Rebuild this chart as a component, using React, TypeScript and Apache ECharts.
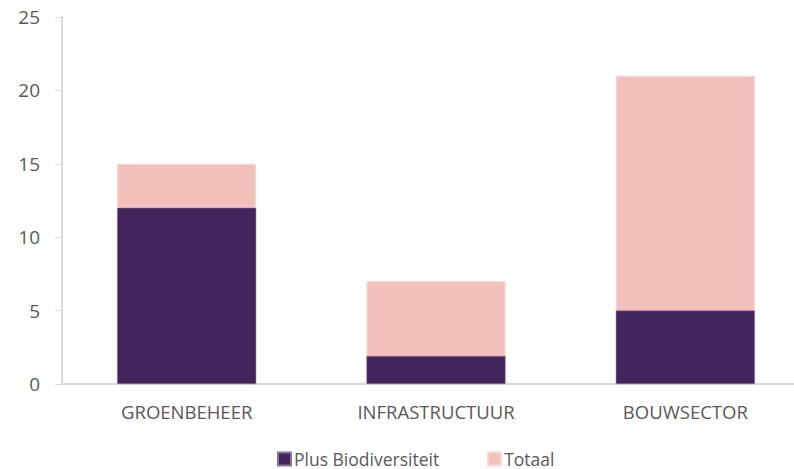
import React, { useEffect, useRef } from "react";
import * as echarts from "echarts";

const categories = ["GROENBEHEER", "INFRASTRUCTUUR", "BOUWSECTOR"];
const plusBiodiversiteit = [12, 1.9, 5];
const totaal = [15, 7, 21];
const yTicks = { min: 0, max: 25, interval: 5 };

const FONT = "'Open Sans', 'Noto Sans', sans-serif";
const TEXT = "#595959";

export default function App() {
  const ref = useRef<HTMLDivElement>(null);
  useEffect(() => {
    if (!ref.current) return;
    const chart = echarts.init(ref.current, null, { renderer: "svg" });
    chart.setOption({
      animation: false,
      textStyle: { fontFamily: FONT },
      grid: { left: 62, top: 17, width: 748, height: 367, containLabel: false },
      legend: {
        left: 277,
        top: 450,
        padding: 0,
        itemWidth: 13,
        itemHeight: 13,
        itemGap: 48,
        icon: "rect",
        textStyle: { color: TEXT, fontSize: 17.5, lineHeight: 15, fontFamily: FONT, padding: [0, 0, 0, -2] },
        data: ["Plus Biodiversiteit", "Totaal"],
      },
      xAxis: {
        type: "category",
        data: categories,
        axisLine: { lineStyle: { color: "#D9D9D9", width: 2 } },
        axisTick: { show: false },
        axisLabel: { color: TEXT, fontSize: 18.5, margin: 18, fontFamily: FONT },
      },
      yAxis: {
        type: "value",
        min: yTicks.min,
        max: yTicks.max,
        interval: yTicks.interval,
        axisLine: { show: true, lineStyle: { color: "#D9D9D9", width: 2 } },
        axisTick: { show: true, length: 7, lineStyle: { color: "#D9D9D9", width: 1 } },
        splitLine: { show: false },
        axisLabel: { color: TEXT, fontSize: 19, margin: 22, fontFamily: FONT },
      },
      series: [
        {
          name: "Totaal",
          type: "bar",
          data: totaal,
          barWidth: 139,
          barGap: "-100%",
          z: 1,
          itemStyle: { color: "#F2BFBA", borderColor: "#F7D9D6", borderWidth: 1 },
        },
        {
          name: "Plus Biodiversiteit",
          type: "bar",
          data: plusBiodiversiteit,
          barWidth: 139,
          barGap: "-100%",
          z: 2,
          itemStyle: { color: "#41255C", borderColor: "#8A7399", borderWidth: 0.5 },
        },
      ],
      color: ["#F2BFBA", "#41255C"],
    });
    return () => chart.dispose();
  }, []);
  return (
    <div style={{ width: 794, height: 469, position: "absolute", left: 0, top: 0, overflow: "hidden" }}>
      <div ref={ref} style={{ width: 812, height: 469 }} />
    </div>
  );
}
